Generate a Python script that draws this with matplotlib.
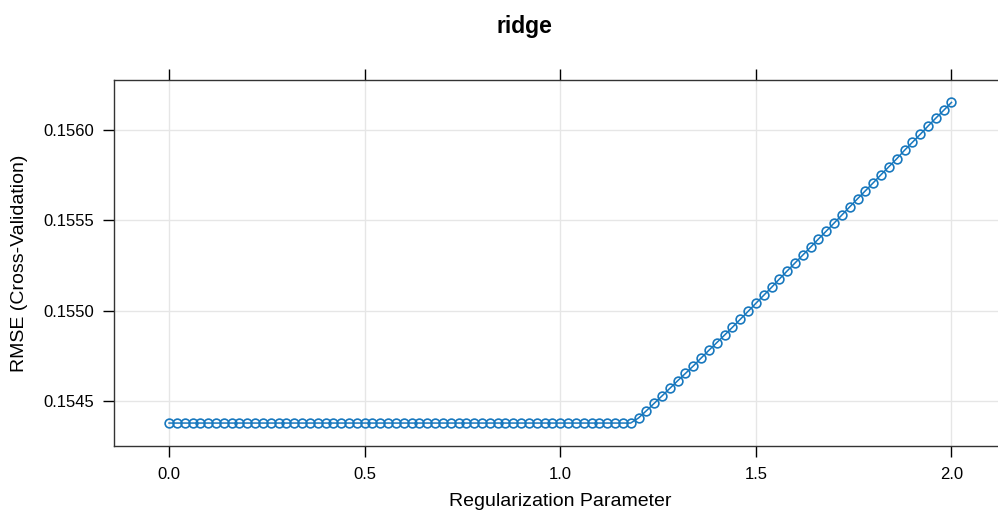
import matplotlib
matplotlib.use("Agg")
import matplotlib.pyplot as plt
import numpy as np

plt.rcParams['font.family'] = ['Liberation Sans', 'DejaVu Sans']

# Regularization parameter values (0.00 .. 2.00 in steps of 0.02)
reg_param = [round(i * 0.02, 2) for i in range(101)]

flat_rmse = [0.154378] * 60  # 0.00 .. 1.18
rising_rmse = [
    0.154406, 0.154446, 0.154487, 0.154528, 0.154570, 0.154612, 0.154653,
    0.154694, 0.154738, 0.154781, 0.154823, 0.154865, 0.154908, 0.154952,
    0.154996, 0.155041, 0.155085, 0.155129,
    0.155175, 0.155220, 0.155264, 0.155308, 0.155352, 0.155397, 0.155441,
    0.155485, 0.155530, 0.155575, 0.155620, 0.155664, 0.155708, 0.155753,
    0.155797, 0.155841, 0.155888, 0.155932, 0.155976, 0.156022, 0.156066,
    0.156109, 0.156153,
]
rmse = flat_rmse + rising_rmse

x_ticks = [0.0, 0.5, 1.0, 1.5, 2.0]
x_tick_labels = ["0.0", "0.5", "1.0", "1.5", "2.0"]
y_ticks = [0.1545, 0.1550, 0.1555, 0.1560]
y_tick_labels = ["0.1545", "0.1550", "0.1555", "0.1560"]

W, H = 998, 515
fig = plt.figure(figsize=(W / 100, H / 100), dpi=100)
left, right, top, bottom = 114, 1000, 80, 446
ax = fig.add_axes([left / W, 1 - bottom / H, (right - left) / W, (bottom - top) / H])

ax.set_xlim(-0.1407, 2.124)
ax.set_ylim(0.154251, 0.156277)

ax.grid(True, color="#e6e6e6", linewidth=1)
ax.set_axisbelow(True)

ax.plot(reg_param, rmse, color="#1878be", linewidth=1.1,
        marker="o", markersize=6.3, markerfacecolor="none",
        markeredgecolor="#1878be", markeredgewidth=1.2, zorder=3)

ax.set_xticks(x_ticks)
ax.set_xticklabels(x_tick_labels)
ax.set_yticks(y_ticks)
ax.set_yticklabels(y_tick_labels)
ax.tick_params(axis="x", which="both", top=True, labeltop=False, direction="out",
               length=8, width=1, color="black", labelsize=12, pad=7)
ax.tick_params(axis="y", which="both", right=False, direction="out",
               length=8, width=1, color="black", labelsize=12, pad=6)

for s in ["left", "top", "bottom"]:
    ax.spines[s].set_color("#333333")
    ax.spines[s].set_linewidth(1)
ax.spines["right"].set_visible(False)

fig.text(524 / W, 1 - 27 / H, "ridge", ha="center", va="center",
         fontsize=16.5, fontweight="bold")
fig.text(560 / W, 1 - 501 / H, "Regularization Parameter", ha="center",
         va="center", fontsize=14)
fig.text(20 / W, 1 - 263 / H, "RMSE (Cross-Validation)", ha="center",
         va="center", rotation=90, fontsize=14)

fig.savefig("out.png", dpi=100)
